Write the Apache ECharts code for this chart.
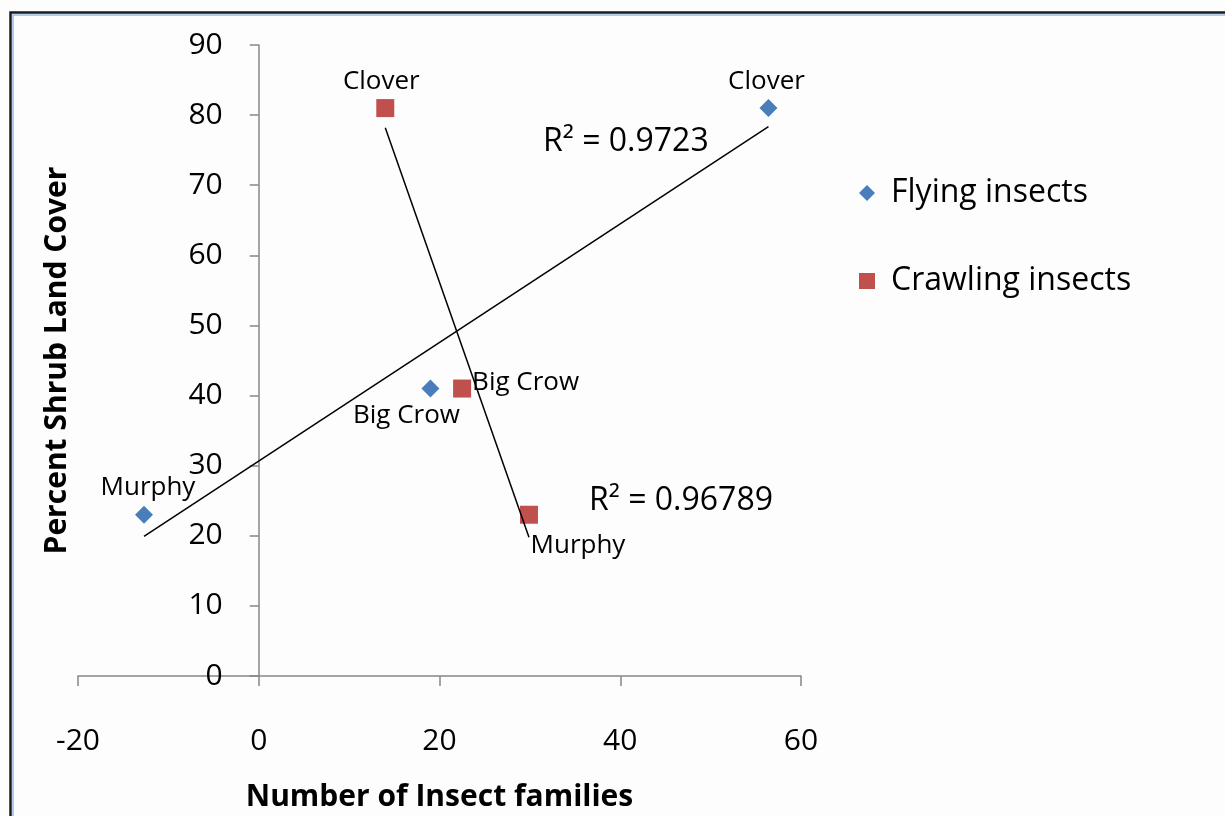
<!DOCTYPE html>
<html>
<head>
<meta charset="utf-8">
<script src="https://cdn.jsdelivr.net/npm/echarts@6/dist/echarts.min.js"></script>
<style>
  html, body { margin: 0; padding: 0; background: #ffffff; }
  #chart { width: 1225px; height: 816px; }
</style>
</head>
<body>
<div id="chart"></div>
<script>
// data
const sites = ['Murphy', 'Big Crow', 'Clover'];
const flyingX = [-12.7, 19, 56.4];
const crawlingX = [29.9, 22.5, 14];
const shrubCover = [23, 41, 81];
const r2Flying = '0.9723';
const r2Crawling = '0.96789';
const xTicks = { min: -20, max: 60, interval: 20 };
const yTicks = { min: 0, max: 90, interval: 10 };

const FONT = '"Open Sans", "Liberation Sans", sans-serif';

// linear trendline (least squares) between the smallest and largest x
function trend (xs, ys) {
  const n = xs.length;
  const mx = xs.reduce((a, b) => a + b, 0) / n;
  const my = ys.reduce((a, b) => a + b, 0) / n;
  let sxy = 0, sxx = 0;
  xs.forEach((x, i) => { sxy += (x - mx) * (ys[i] - my); sxx += (x - mx) * (x - mx); });
  const k = sxy / sxx;
  const b = my - k * mx;
  const lo = Math.min(...xs), hi = Math.max(...xs);
  return [[lo, k * lo + b], [hi, k * hi + b]];
}

// label placement per point (Murphy, Big Crow, Clover)
const flyingLabels = [
  { position: 'top', offset: [4, 0] },
  { position: 'bottom', offset: [-24, 0] },
  { position: 'top', offset: [-2, 0] }
];
const crawlingLabels = [
  { position: 'bottom', offset: [49, 4] },
  { position: 'right', offset: [-4, -6] },
  { position: 'top', offset: [-4, 0] }
];

function points (xs, labels) {
  return xs.map((x, i) => ({
    value: [x, shrubCover[i]],
    name: sites[i],
    label: labels[i]
  }));
}

const pointLabel = { show: true, formatter: '{b}', fontFamily: FONT, fontSize: 26, color: '#000', opacity: 1, distance: 5 };

const grid = { left: 78, right: 424, top: 45, bottom: 140 };
// y axis sits on x = 0: shift it right by that position inside the plot
const plotW = 1225 - grid.left - grid.right;
const yShift = plotW * (0 - xTicks.min) / (xTicks.max - xTicks.min);

const chart = echarts.init(document.getElementById('chart'));
chart.setOption({
  backgroundColor: '#fdfdfd',
  animation: false,
  grid: Object.assign({ outerBoundsMode: 'none', containLabel: false }, grid),
  legend: {
    orient: 'vertical',
    left: 854,
    top: 172,
    itemWidth: 16,
    itemHeight: 16,
    itemGap: 56,
    data: [
      { name: 'Flying insects', icon: 'diamond' },
      { name: 'Crawling insects', icon: 'rect' }
    ],
    textStyle: { fontFamily: FONT, fontSize: 32, color: '#000', lineHeight: 32, padding: [0, 0, 0, 11] }
  },
  xAxis: {
    type: 'value',
    min: xTicks.min,
    max: xTicks.max,
    interval: xTicks.interval,
    name: 'Number of Insect families',
    nameLocation: 'middle',
    nameGap: 106,
    nameTextStyle: { fontFamily: FONT, fontSize: 30, fontWeight: 'bold', color: '#000' },
    axisLine: { show: true, onZero: false, lineStyle: { color: '#868686', width: 1.5 } },
    axisTick: { show: true, length: 10, lineStyle: { color: '#868686', width: 1.5 } },
    axisLabel: { fontFamily: FONT, fontSize: 30, color: '#000', margin: 50 },
    splitLine: { show: false }
  },
  yAxis: {
    type: 'value',
    min: yTicks.min,
    max: yTicks.max,
    interval: yTicks.interval,
    offset: -yShift,
    name: 'Percent Shrub Land Cover',
    nameLocation: 'middle',
    nameGap: 186,
    nameTextStyle: { fontFamily: FONT, fontSize: 30, fontWeight: 'bold', color: '#000' },
    axisLine: { show: true, onZero: false, lineStyle: { color: '#868686', width: 1.5 } },
    axisTick: { show: true, length: 9, lineStyle: { color: '#868686', width: 1.5 } },
    axisLabel: { fontFamily: FONT, fontSize: 30, color: '#000', margin: 36 },
    splitLine: { show: false }
  },
  series: [
    {
      name: 'Flying insects',
      type: 'scatter',
      symbol: 'diamond',
      symbolSize: 18,
      itemStyle: { color: '#4a7ebb', opacity: 1 },
      label: pointLabel,
      data: points(flyingX, flyingLabels),
      z: 3
    },
    {
      name: 'Crawling insects',
      type: 'scatter',
      symbol: 'rect',
      symbolSize: 18,
      itemStyle: { color: '#c0504d', opacity: 1 },
      label: pointLabel,
      data: points(crawlingX, crawlingLabels),
      z: 3
    },
    {
      name: 'flying trend',
      type: 'line',
      symbol: 'none',
      silent: true,
      lineStyle: { color: '#000', width: 1.5 },
      data: trend(flyingX, shrubCover),
      z: 4
    },
    {
      name: 'crawling trend',
      type: 'line',
      symbol: 'none',
      silent: true,
      lineStyle: { color: '#000', width: 1.5 },
      data: trend(crawlingX, shrubCover),
      z: 4
    }
  ],
  graphic: [
    { type: 'rect', left: 8, top: 10, z: 0, silent: true,
      shape: { width: 1300, height: 900 },
      style: { fill: 'none', stroke: '#1b1b1b', lineWidth: 2.5 } },
    { type: 'rect', left: 10.5, top: 12.5, z: 0, silent: true,
      shape: { width: 1300, height: 900 },
      style: { fill: 'none', stroke: '#9bbbe3', lineWidth: 1.5 } },
    { type: 'text', x: 543, y: 142, z: 10,
      style: { text: 'R² = ' + r2Flying, font: '32px ' + FONT, fill: '#000', textAlign: 'left', textVerticalAlign: 'middle' } },
    { type: 'text', x: 589, y: 501, z: 10,
      style: { text: 'R² = ' + r2Crawling, font: '32px ' + FONT, fill: '#000', textAlign: 'left', textVerticalAlign: 'middle' } }
  ]
});
</script>
</body>
</html>
